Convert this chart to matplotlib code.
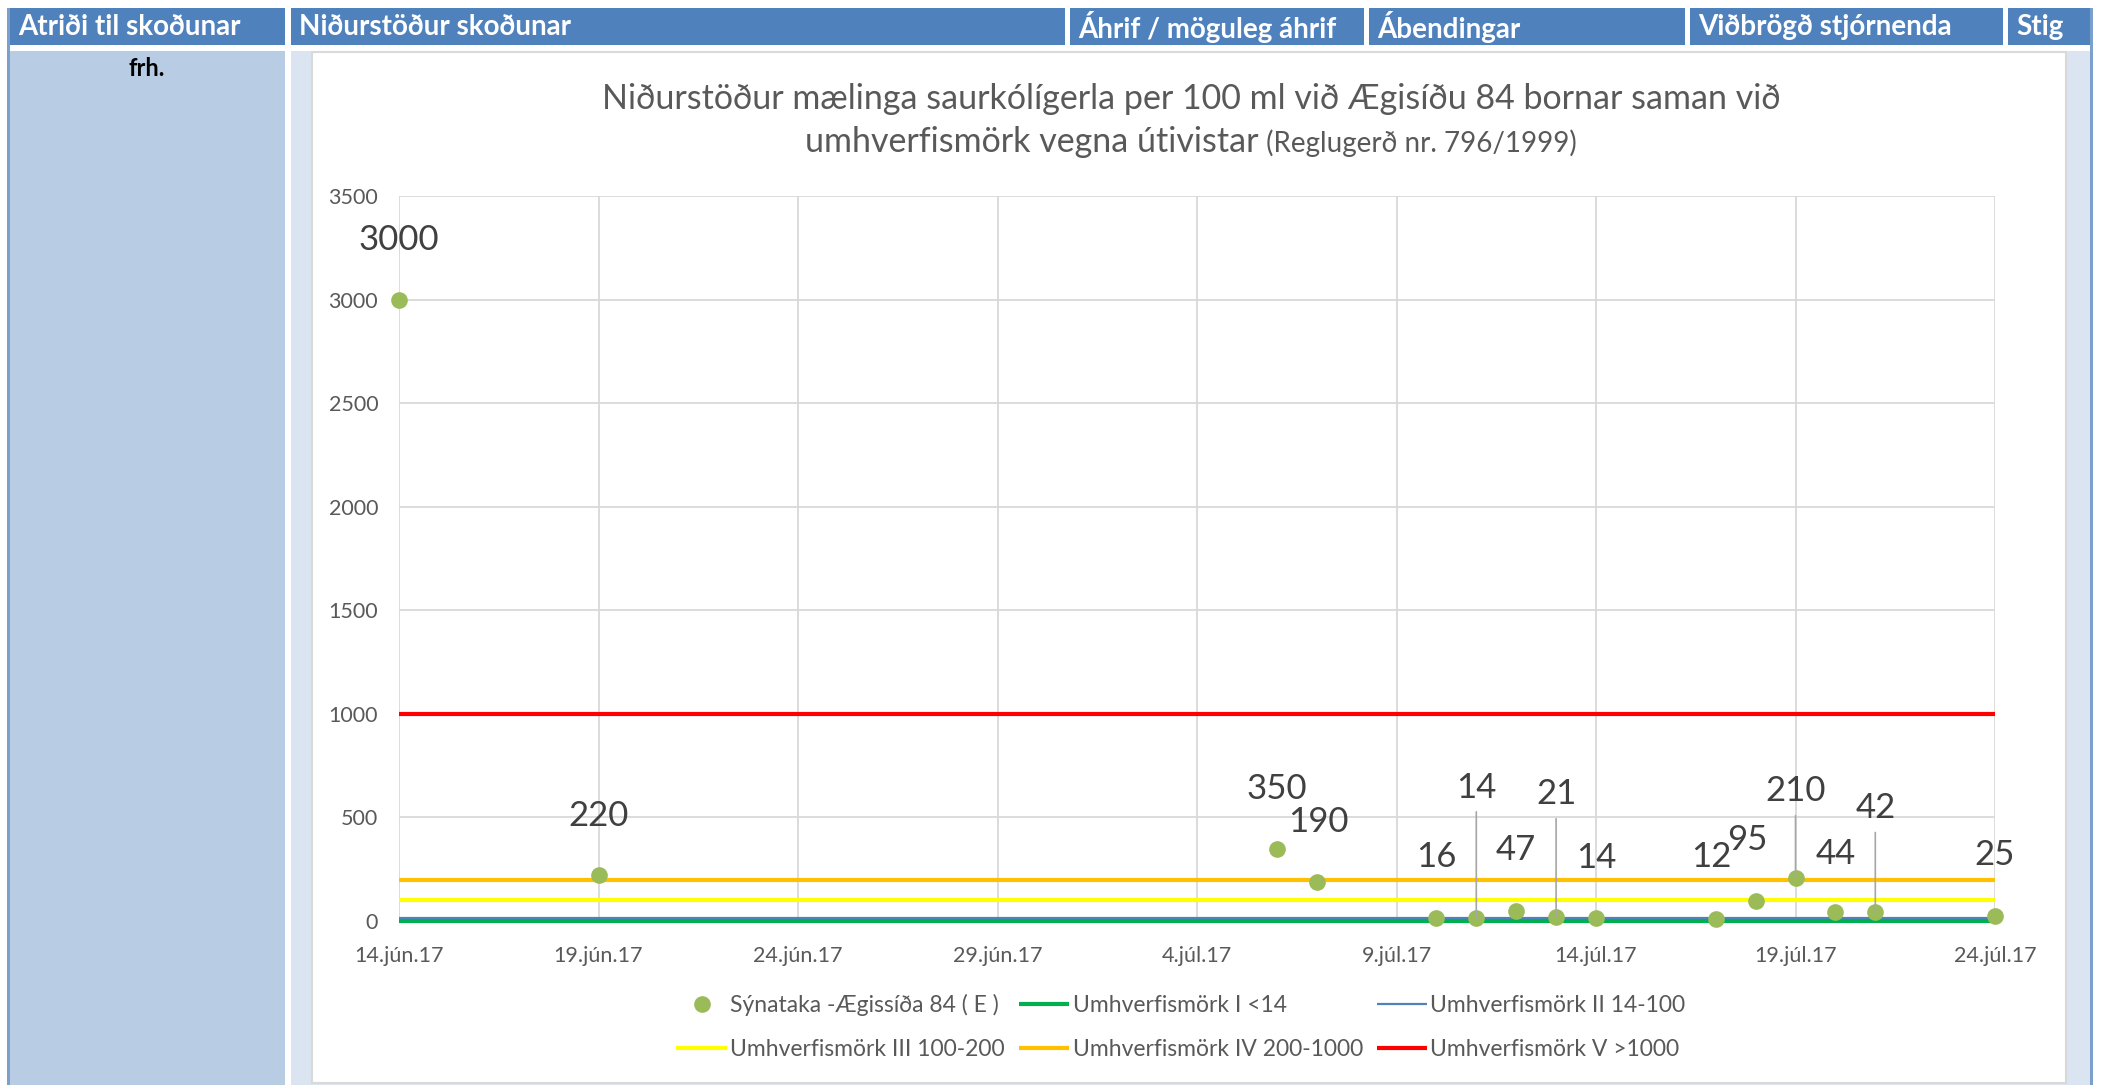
import datetime as dt

import matplotlib
matplotlib.use("Agg")
import matplotlib.pyplot as plt
import matplotlib.dates as mdates
from matplotlib.patches import Rectangle
from matplotlib.ticker import FuncFormatter, MultipleLocator

plt.rcParams["font.family"] = ["Lato", "DejaVu Sans"]

# --- data ---
sample_dates = ["2017-06-14", "2017-06-19", "2017-07-06", "2017-07-07", "2017-07-10",
                "2017-07-11", "2017-07-12", "2017-07-13", "2017-07-14", "2017-07-17",
                "2017-07-18", "2017-07-19", "2017-07-20", "2017-07-21", "2017-07-24"]
sample_values = [3000, 220, 350, 190, 16, 14, 47, 21, 14, 12, 95, 210, 44, 42, 25]
sample_name = "Sýnataka -Ægissíða 84 ( E )"

limit_names = ["Umhverfismörk I <14", "Umhverfismörk II 14-100", "Umhverfismörk III 100-200",
               "Umhverfismörk IV 200-1000", "Umhverfismörk V >1000"]
limit_values = [0, 14, 100, 200, 1000]

tick_dates = ["2017-06-14", "2017-06-19", "2017-06-24", "2017-06-29", "2017-07-04",
              "2017-07-09", "2017-07-14", "2017-07-19", "2017-07-24"]
month_names = {6: "jún", 7: "júl"}

header_labels = ["Atriði til skoðunar", "Niðurstöður skoðunar", "Áhrif / möguleg áhrif",
                 "Ábendingar", "Viðbrögð stjórnenda", "Stig"]

title_line1 = "Niðurstöður mælinga saurkólígerla per 100 ml við Ægisíðu 84 bornar saman við"
title_line2a = "umhverfismörk vegna útivistar"
title_line2b = " (Reglugerð nr. 796/1999)"

# --- styling (not data) ---
limit_colors = ["#00B050", "#4F81BD", "#FFFF00", "#FFC000", "#FF0000"]
limit_widths = [3.0, 1.6, 3.0, 3.0, 3.0]
# label offsets in points (dx, dy) and whether Excel drew a leader line
label_offsets = [(0, 43), (0, 43), (0, 43), (1, 43), (0, 44), (0, 94), (0, 44), (0, 88),
                 (0, 43), (-3, 44), (-6, 44), (0, 62), (0, 42), (0, 75), (0, 44)]
leader = [False, False, False, False, False, True, False, True,
          False, False, False, True, False, True, False]
header_cells = [(10, 285), (291, 1065), (1070, 1364), (1369, 1685), (1690, 2003), (2008, 2090)]

W, H = 2105, 1085
fig = plt.figure(figsize=(W / 100, H / 100), dpi=100)


def px_rect(x0, y0, x1, y1, **kw):
    fig.patches.append(Rectangle((x0 / W, 1 - y1 / H), (x1 - x0) / W, (y1 - y0) / H,
                                 transform=fig.transFigure, zorder=-5, **kw))


# table frame
px_rect(7, 8, 10, H, facecolor="#7BA0CD", edgecolor="none")
px_rect(2090, 8, 2093, H, facecolor="#7BA0CD", edgecolor="none")
for (x0, x1), label in zip(header_cells, header_labels):
    px_rect(x0, 8, x1, 45, facecolor="#4F81BD", edgecolor="none")
    fig.text((x0 + 8) / W, 1 - 27 / H, label, color="white", fontsize=20,
             fontweight="bold", va="center", ha="left")
px_rect(10, 51, 285, H, facecolor="#B8CCE4", edgecolor="none")
px_rect(291, 51, 2090, H, facecolor="#DBE5F1", edgecolor="none")
px_rect(312, 52, 2066, H - 2, facecolor="white", edgecolor="#D9D9D9", linewidth=1.5)
fig.text(147 / W, 1 - 68 / H, "frh.", color="black", fontsize=17, fontweight="bold",
         ha="center", va="center")

# chart
ax = fig.add_axes([399 / W, 1 - 921 / H, (1995 - 399) / W, (921 - 196) / H])
ax.set_zorder(2)
ax.set_facecolor("none")
dates = [dt.datetime.strptime(d, "%Y-%m-%d") for d in sample_dates]
ticks = [dt.datetime.strptime(d, "%Y-%m-%d") for d in tick_dates]

handles = []
for name, val, col, lw in zip(limit_names, limit_values, limit_colors, limit_widths):
    h = ax.axhline(val, color=col, linewidth=lw, label=name, zorder=3,
                   solid_capstyle="butt", clip_on=False)
    handles.append(h)

sc = ax.plot(dates, sample_values, linestyle="none", marker="o", markersize=12,
             color="#9BBB59", markeredgewidth=0, label=sample_name, zorder=5, clip_on=False)[0]

for d, v, (dx, dy), lead in zip(dates, sample_values, label_offsets, leader):
    arrow = dict(arrowstyle="-", color="#A6A6A6", lw=1.2, shrinkA=4, shrinkB=0) if lead else None
    ax.annotate(str(v), xy=(mdates.date2num(d), v), xytext=(dx, dy), textcoords="offset points",
                ha="center", va="center", fontsize=25, color="#404040",
                arrowprops=arrow, zorder=6)

ax.set_xlim(ticks[0], ticks[-1])
ax.set_ylim(0, 3500)
ax.set_xticks(ticks)
ax.xaxis.set_major_formatter(FuncFormatter(
    lambda x, pos: (lambda d: f"{d.day}.{month_names[d.month]}.{d:%y}")(mdates.num2date(x))))
ax.yaxis.set_major_locator(MultipleLocator(500))
ax.grid(True, color="#D9D9D9", linewidth=1.3, zorder=0)
ax.set_axisbelow(True)
for s in ax.spines.values():
    s.set_visible(False)
ax.tick_params(axis="both", length=0, labelsize=15.5, labelcolor="#595959")
ax.tick_params(axis="y", pad=15)
ax.tick_params(axis="x", pad=18)

# title
fig.text(1191 / W, 1 - 99 / H, title_line1, fontsize=24.5, color="#595959",
         ha="center", va="center")
renderer = fig.canvas.get_renderer()
ta = fig.text(0, 0, title_line2a, fontsize=24.5, color="#595959")
tb = fig.text(0, 0, title_line2b, fontsize=20, color="#595959")
wa = ta.get_window_extent(renderer).width
wb = tb.get_window_extent(renderer).width
x_start = 1191 - (wa + wb) / 2
base_y = 1 - 152 / H
ta.set_position((x_start / W, base_y))
tb.set_position(((x_start + wa) / W, base_y))

# legend, row-major order as in Excel
order = [sc, handles[0], handles[1], handles[2], handles[3], handles[4]]
ordered = [order[0], order[3], order[1], order[4], order[2], order[5]]
leg = fig.legend(ordered, [h.get_label() for h in ordered], ncol=3,
                 loc="center", bbox_to_anchor=(1181 / W, 1 - 1027 / H),
                 frameon=False, fontsize=16.5, handlelength=2.2, handletextpad=0.15,
                 columnspacing=0.6, labelspacing=1.0)
for t in leg.get_texts():
    t.set_color("#595959")

fig.savefig("out.png", dpi=100)
